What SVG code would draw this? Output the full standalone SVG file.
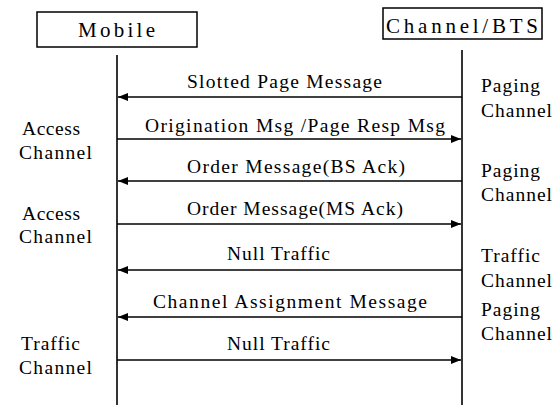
<svg xmlns="http://www.w3.org/2000/svg" width="558" height="405" viewBox="0 0 558 405">
<style>
text{font-family:"Liberation Serif","Times New Roman",serif;fill:#000}
.t{font-size:19.5px}
.h{font-size:21px}
.box{fill:#fff;stroke:#000;stroke-width:1.5}
.life{stroke:#000;stroke-width:1.6;fill:none}
.msg{stroke:#000;stroke-width:1.4;fill:none}
</style>
<defs>
<marker id="ah" viewBox="0 0 10 8" refX="10" refY="4" markerWidth="10" markerHeight="8" markerUnits="userSpaceOnUse" orient="auto">
<path d="M0,0 L10,4 L0,8 Z" fill="#000"/>
</marker>
</defs>
<rect width="558" height="405" fill="#fff"/>
<g id="mobile">
<rect class="box" x="37" y="12" width="160" height="35"/>
<text class="h" x="78" y="37" textLength="77" lengthAdjust="spacing">Mobile</text>
<line class="life" x1="117" y1="55" x2="117" y2="405"/>
</g>
<g id="bts">
<rect class="box" x="383" y="8" width="159" height="31"/>
<text class="h" x="386" y="33" textLength="152" lengthAdjust="spacing">Channel/BTS</text>
<line class="life" x1="462" y1="50" x2="462" y2="405"/>
</g>
<g id="left-labels">
<text class="t" x="22" y="135" textLength="58" lengthAdjust="spacing">Access</text>
<text class="t" x="19" y="159" textLength="73" lengthAdjust="spacing">Channel</text>
<text class="t" x="22" y="220" textLength="58" lengthAdjust="spacing">Access</text>
<text class="t" x="19" y="243" textLength="73" lengthAdjust="spacing">Channel</text>
<text class="t" x="21" y="350" textLength="59" lengthAdjust="spacing">Traffic</text>
<text class="t" x="19" y="374" textLength="73" lengthAdjust="spacing">Channel</text>
</g>
<g id="right-labels">
<text class="t" x="481" y="92" textLength="59" lengthAdjust="spacing">Paging</text>
<text class="t" x="481" y="117" textLength="71" lengthAdjust="spacing">Channel</text>
<text class="t" x="481" y="177" textLength="59" lengthAdjust="spacing">Paging</text>
<text class="t" x="481" y="201" textLength="71" lengthAdjust="spacing">Channel</text>
<text class="t" x="481" y="262" textLength="59" lengthAdjust="spacing">Traffic</text>
<text class="t" x="481" y="287" textLength="71" lengthAdjust="spacing">Channel</text>
<text class="t" x="481" y="316" textLength="59" lengthAdjust="spacing">Paging</text>
<text class="t" x="481" y="340" textLength="71" lengthAdjust="spacing">Channel</text>
</g>
<g id="connectors">
<line class="msg" x1="462" y1="97" x2="118" y2="97" marker-end="url(#ah)"/>
<line class="msg" x1="117" y1="139" x2="461" y2="139" marker-end="url(#ah)"/>
<line class="msg" x1="462" y1="181" x2="118" y2="181" marker-end="url(#ah)"/>
<line class="msg" x1="117" y1="224" x2="461" y2="224" marker-end="url(#ah)"/>
<line class="msg" x1="462" y1="270" x2="118" y2="270" marker-end="url(#ah)"/>
<line class="msg" x1="462" y1="317" x2="118" y2="317" marker-end="url(#ah)"/>
<line class="msg" x1="117" y1="360" x2="461" y2="360" marker-end="url(#ah)"/>
</g>
<g id="message-labels">
<text class="t" x="187" y="88" textLength="195" lengthAdjust="spacing">Slotted Page Message</text>
<text class="t" x="145" y="132" textLength="300" lengthAdjust="spacing">Origination Msg /Page Resp Msg</text>
<text class="t" x="187" y="173" textLength="218" lengthAdjust="spacing">Order Message(BS Ack)</text>
<text class="t" x="187" y="215" textLength="216" lengthAdjust="spacing">Order Message(MS Ack)</text>
<text class="t" x="227" y="260" textLength="103" lengthAdjust="spacing">Null Traffic</text>
<text class="t" x="153" y="308" textLength="274" lengthAdjust="spacing">Channel Assignment Message</text>
<text class="t" x="227" y="350" textLength="103" lengthAdjust="spacing">Null Traffic</text>
</g>
</svg>
